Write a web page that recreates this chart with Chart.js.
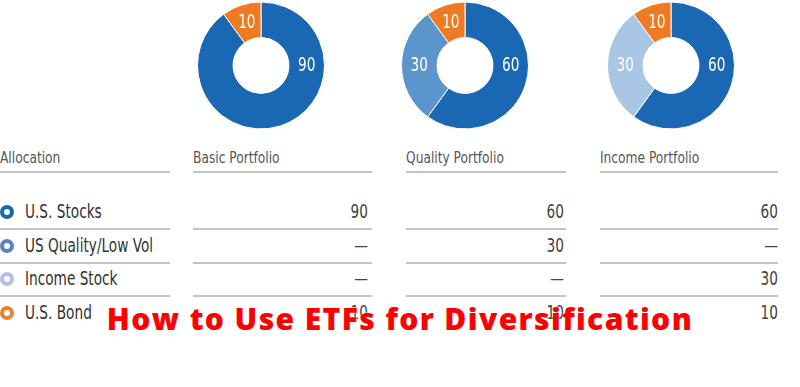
<!DOCTYPE html>
<html>
<head>
<meta charset="utf-8">
<script src="https://cdn.jsdelivr.net/npm/chart.js@4"></script>
<style>
  body { margin: 0; background: #fff; width: 800px; height: 387px; overflow: hidden; position: relative;
         font-family: "Liberation Sans Narrow", "DejaVu Sans Condensed", "Roboto", sans-serif; color: #333; }
  canvas.donut { position: absolute; top: 0; }
  .head { position: absolute; top: 148px; font-size: 16px; color: #555; transform: scaleX(0.85); transform-origin: left top; white-space: nowrap; }
  .rule { position: absolute; height: 2px; background: #c4c4c4; }
  .label { position: absolute; left: 25px; font-size: 19px; color: #333; transform: scaleX(0.8); transform-origin: left top; white-space: nowrap; }
  .val { position: absolute; font-size: 19px; color: #444; text-align: right; width: 60px; transform: scaleX(0.8); transform-origin: right top; }
  .dot { position: absolute; left: 0px; width: 6px; height: 6px; border-radius: 50%; border: 4px solid; }
  #title { position: absolute; left: 0; width: 800px; top: 298px; text-align: center; white-space: nowrap;
           font-family: "Open Sans", sans-serif; font-weight: 800; font-size: 30px; letter-spacing: 1.4px; color: #f00;
           text-shadow: 0 0 2px #fff; }
</style>
</head>
<body>

<canvas class="donut" id="c0" width="128" height="131" style="left:197px"></canvas>
<canvas class="donut" id="c1" width="128" height="131" style="left:401px"></canvas>
<canvas class="donut" id="c2" width="128" height="131" style="left:607px"></canvas>

<div id="table"></div>
<div id="title">How to Use ETFs for Diversification</div>

<script>
// Daten
const allocations = ['U.S. Stocks', 'US Quality/Low Vol', 'Income Stock', 'U.S. Bond'];
const portfolios = ['Basic Portfolio', 'Quality Portfolio', 'Income Portfolio'];
const basicValues = [90, 0, 0, 10];
const qualityValues = [60, 30, 0, 10];
const incomeValues = [60, 0, 30, 10];
const sliceColors = ['#1a68b3', '#5b95cb', '#a9c7e4', '#ee7a22'];
const markerColors = ['#1a66b0', '#5d80c0', '#b3bee0', '#ea8233'];

const allValues = [basicValues, qualityValues, incomeValues];

// Zahlen in die Ringe schreiben
const sliceLabels = {
    id: 'sliceLabels',
    afterDatasetsDraw(chart) {
        const ctx = chart.ctx;
        const meta = chart.getDatasetMeta(0);
        const data = chart.data.datasets[0].data;
        meta.data.forEach((arc, i) => {
            if (!data[i]) return;
            const p = arc.getProps(['x', 'y', 'startAngle', 'endAngle', 'innerRadius', 'outerRadius'], true);
            // grosse Segmente: Zahl rechts auf 3 Uhr
            const angle = (p.endAngle - p.startAngle) > Math.PI ? 0 : (p.startAngle + p.endAngle) / 2;
            const r = (p.innerRadius + p.outerRadius) / 2;
            ctx.save();
            ctx.translate(p.x + Math.cos(angle) * r, p.y + Math.sin(angle) * r + 1);
            ctx.scale(0.8, 1);
            ctx.fillStyle = '#fff';
            ctx.font = '19px "Liberation Sans Narrow", "DejaVu Sans Condensed", sans-serif';
            ctx.textAlign = 'center';
            ctx.textBaseline = 'middle';
            ctx.fillText(String(data[i]), 0, 0);
            ctx.restore();
        });
    }
};

allValues.forEach((values, k) => {
    new Chart(document.getElementById('c' + k).getContext('2d'), {
        type: 'doughnut',
        data: {
            labels: allocations,
            datasets: [{
                data: values,
                backgroundColor: sliceColors,
                borderColor: '#fff',
                borderWidth: 1
            }]
        },
        options: {
            responsive: false,
            animation: false,
            cutout: '44%',
            plugins: { legend: { display: false }, tooltip: { enabled: false } }
        },
        plugins: [sliceLabels]
    });
});

// Tabelle
const table = document.getElementById('table');
const cols = [
    { left: 0, right: 170 },
    { left: 193, right: 372 },
    { left: 406, right: 566 },
    { left: 600, right: 778 }
];
const valueRight = [368, 564, 778];

function add(cls, style, text) {
    const d = document.createElement('div');
    d.className = cls;
    Object.assign(d.style, style);
    if (text !== undefined) d.textContent = text;
    table.appendChild(d);
    return d;
}

add('head', { left: '0px' }, 'Allocation');
portfolios.forEach((p, k) => add('head', { left: cols[k + 1].left + 'px' }, p));
cols.forEach(c => add('rule', { left: c.left + 'px', width: (c.right - c.left) + 'px', top: '171px' }));

allocations.forEach((name, i) => {
    const top = 200 + i * 33.5;
    add('dot', { top: (top + 5) + 'px', borderColor: markerColors[i] });
    add('label', { top: top + 'px' }, name);
    allValues.forEach((values, k) => {
        add('val', { top: top + 'px', left: (valueRight[k] - 60) + 'px' }, values[i] ? String(values[i]) : '—');
    });
    if (i < allocations.length - 1) {
        cols.forEach(c => add('rule', { left: c.left + 'px', width: (c.right - c.left) + 'px', top: (top + 28) + 'px' }));
    }
});
</script>
</body>
</html>
